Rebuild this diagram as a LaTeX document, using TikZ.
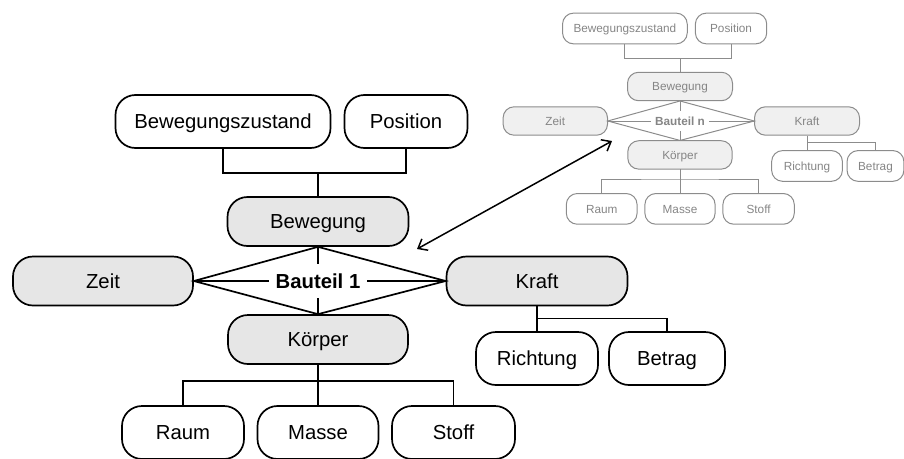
\documentclass[tikz,border=0pt]{standalone}
\usepackage{fontspec}
\setmainfont{Liberation Sans}
\usetikzlibrary{arrows.meta}
\definecolor{boxgrey}{HTML}{E6E6E6}
\definecolor{pale}{HTML}{F0F0F0}
\definecolor{linegrey}{HTML}{8C8C8C}
\definecolor{textgrey}{HTML}{858585}

\tikzset{
  part/.style={draw=black, line width=1.7pt, text=black},
  corner/.style={rounded corners=20pt},
  box/.style={part, corner, minimum height=53pt, inner sep=0pt, text height=14.6pt, text depth=0pt, font=\fontsize{20.3}{24}\selectfont},
  greybox/.style={box, fill=boxgrey, minimum height=49pt},
  tree/.style={part},
  core/.style={fill=white, text=black, inner xsep=7pt, inner ysep=10pt, text height=14.6pt, text depth=0pt, font=\bfseries\fontsize{20.3}{24}\selectfont},
}

% one component: prefix, label, x of Betrag, width of Betrag
\newcommand{\bauteil}[4]{%
  \node[box, minimum width=215pt] (#1bz) at (-95,159.5) {Bewegungszustand};
  \node[box, minimum width=123pt] (#1pos) at (88,159.5) {Position};
  \node[greybox, minimum width=181pt] (#1bew) at (0,59.5) {Bewegung};
  \node[greybox, minimum width=180pt] (#1zeit) at (-215,0) {Zeit};
  \node[greybox, minimum width=181pt] (#1kr) at (219,0) {Kraft};
  \node[greybox, minimum width=180pt] (#1koe) at (0,-58.5) {K\"orper};
  \node[box, minimum width=122pt] (#1raum) at (-135,-151.5) {Raum};
  \node[box, minimum width=121pt] (#1masse) at (0,-151.5) {Masse};
  \node[box, minimum width=123pt] (#1stoff) at (135.5,-151.5) {Stoff};
  \node[box, minimum width=122pt] (#1rich) at (219,-77.5) {Richtung};
  \node[box, minimum width=#4pt] (#1bet) at (#3,-77.5) {Betrag};
  \draw[tree] (#1bz.south) |- (0,108) -| (#1pos.south);
  \draw[tree] (#1bew.north) -- (0,108);
  \draw[tree] (#1bew.south) -- (#1zeit.east) -- (#1koe.north) -- (#1kr.west) -- cycle;
  \draw[tree] (#1zeit.east) -- (#1kr.west);
  \draw[tree] (#1bew.south) -- (#1koe.north);
  \node[core] (#1core) at (0,0) {#2};
  \draw[tree] (#1koe.south) -- (#1masse.north);
  \draw[tree] (#1raum.north) |- (0,-100) -| (#1stoff.north);
  \draw[tree] (#1kr.south) -- (#1rich.north);
  \draw[tree] (#1kr.south) ++(0,-12) -| (#1bet.north);
}

\begin{document}
\begin{tikzpicture}[x=1pt, y=1pt]
\useasboundingbox (0,0) rectangle (904,-458);

\begin{scope}[shift={(318,-281)}]
\bauteil{m}{Bauteil 1}{349}{116}
\end{scope}

\begin{scope}[shift={(680,-121)}, scale=0.58, transform shape,
  part/.style={draw=linegrey, line width=1pt, text=textgrey},
  corner/.style={rounded corners=11pt},
  greybox/.append style={fill=pale},
  core/.append style={text=textgrey}]
\bauteil{n}{Bauteil n}{337}{98}
\end{scope}

\coordinate (mEnd) at (417,-249);
\coordinate (nEnd) at (612,-141);
\draw[{Straight Barb[length=8pt,width=13pt]}-{Straight Barb[length=8pt,width=13pt]}, line width=1.5pt] (mEnd) -- (nEnd);

\end{tikzpicture}
\end{document}
